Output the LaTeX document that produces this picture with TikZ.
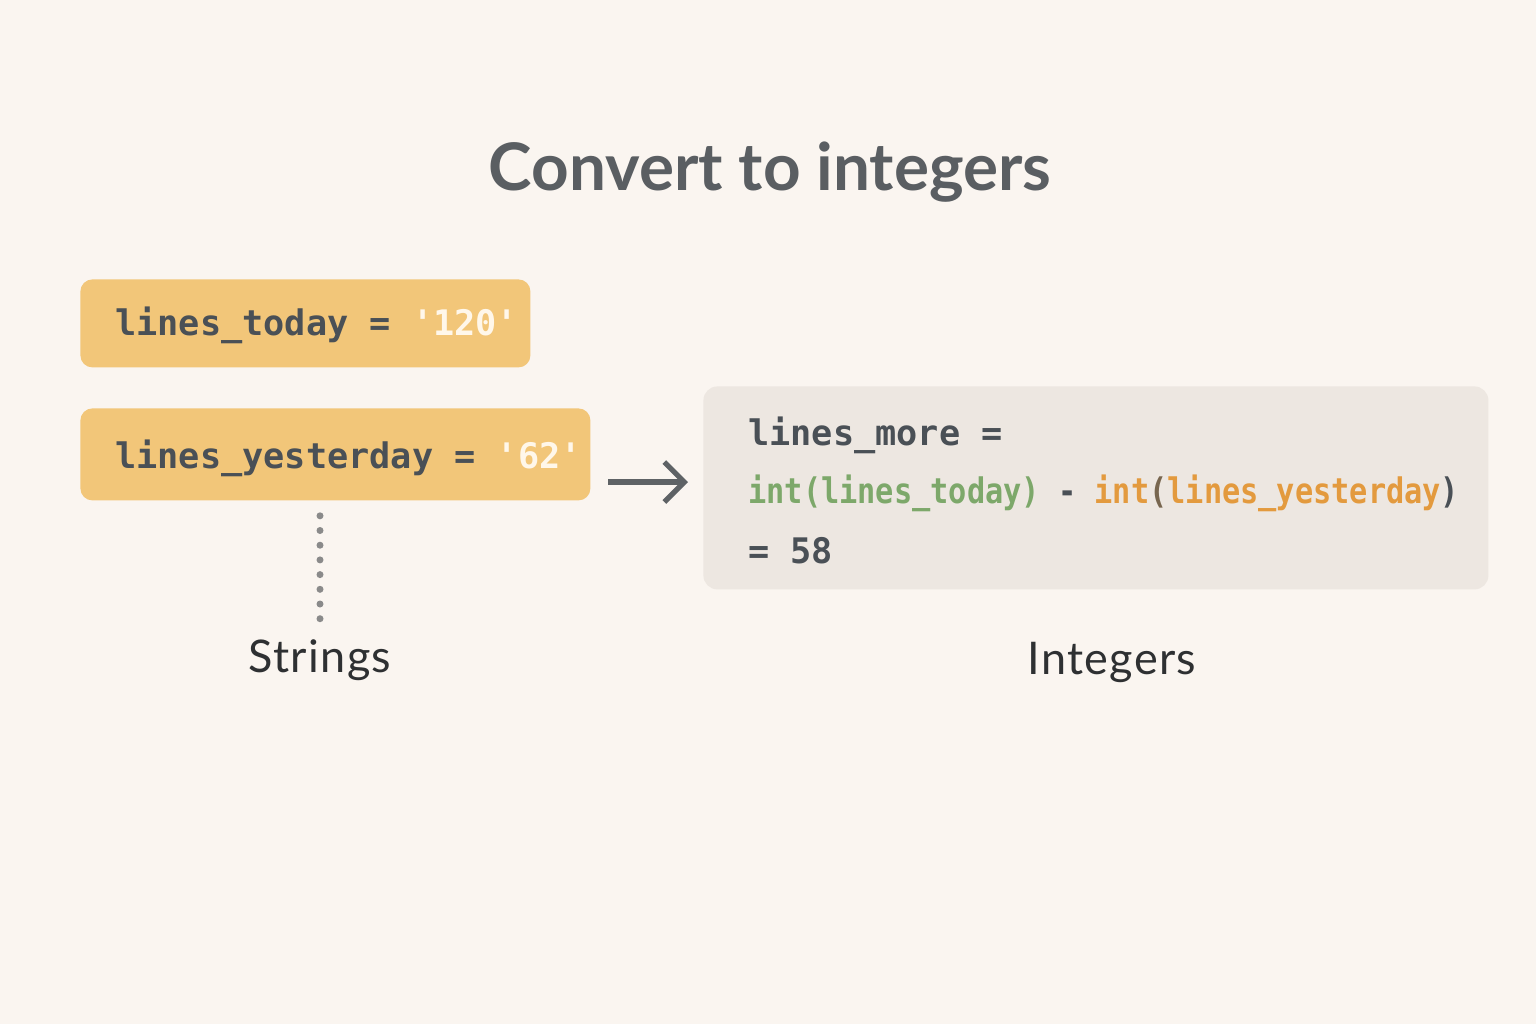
\documentclass[tikz,border=0pt]{standalone}
\usepackage{fontspec}
\usepackage{graphicx}
\setmainfont{Lato}
\newfontfamily\labelfont[LetterSpace=3]{Lato}
\newfontfamily\codefont{DejaVu Sans Mono}
\usetikzlibrary{arrows.meta}
\definecolor{bg}{HTML}{FAF5F0}
\definecolor{ybox}{HTML}{F2C679}
\definecolor{gbox}{HTML}{EDE7E1}
\definecolor{ink}{HTML}{4A5056}
\definecolor{title}{HTML}{5A5E62}
\definecolor{strval}{HTML}{FFF7EA}
\definecolor{cgreen}{HTML}{7DA86A}
\definecolor{corange}{HTML}{E39A3E}
\definecolor{dotgray}{HTML}{8A8A8A}
\definecolor{arrowgray}{HTML}{5E6265}
\definecolor{labelink}{HTML}{2E3032}
\newcommand{\us}{\char"5F\relax}
\tikzset{
  strbox/.style={fill=ybox, rounded corners=6pt, inner sep=0pt, anchor=north west},
  codebox/.style={fill=gbox, rounded corners=7pt, inner sep=0pt, anchor=north west},
  codetxt/.style={font=\codefont\bfseries\fontsize{17.6}{20}\selectfont, text=ink, anchor=west, inner sep=0pt},
  condtxt/.style={font=\codefont\bfseries\fontsize{17.6}{20}\selectfont, anchor=west, inner sep=0pt},
  lbl/.style={font=\labelfont\fontsize{22.5}{26}\selectfont, text=labelink, inner sep=0pt},
  dots/.style={draw=dotgray, line width=3.5pt, line cap=round, dash pattern=on 0pt off 7.35pt},
  conv/.style={draw=arrowgray, line width=2.6pt, -{Straight Barb[length=10pt,width=20pt,line width=2.6pt]}}
}
\begin{document}
\begin{tikzpicture}[x=0.5pt,y=-0.5pt]
\fill[bg] (0,0) rectangle (1536,1024);
\useasboundingbox (0,0) rectangle (1536,1024);

\node[font=\bfseries\fontsize{32.8}{36}\selectfont, text=title, inner sep=0pt] (t) at (770,172) {Convert to integers};

\node[strbox, minimum width=225pt, minimum height=44pt] (b1) at (80,279) {};
\node[codetxt] (t1) at (115,325) {lines\us today = \textcolor{strval}{'120'}};

\node[strbox, minimum width=255pt, minimum height=46pt] (b2) at (80,408) {};
\node[codetxt] (t2) at (115,458) {lines\us yesterday = \textcolor{strval}{'62'}};

\node[codebox, minimum width=392.5pt, minimum height=101.5pt] (b3) at (703,386) {};
\node[codetxt] (r1) at (748,435) {lines\us more =};
\node[condtxt] (r2) at (748,493) {\scalebox{0.86}[1]{\textcolor{cgreen}{int(lines\us today)} \textcolor{ink}{-} \textcolor{corange}{int}\textcolor{ink!70!corange}{(}\textcolor{corange}{lines\us yesterday}\textcolor{ink}{)}}};
\node[codetxt] (r3) at (748,551) {= 58};

\coordinate (a0) at (608,482);
\coordinate (a1) at (688,482);
\draw[conv] (a0) -- (a1);

\node[lbl] (s) at (320,660) {Strings};
\node[lbl] (i) at (1112,662) {Integers};

\draw[dots] (b2.south -| s) ++(0,15) -- ([yshift=10pt]s.north);
\end{tikzpicture}
\end{document}
